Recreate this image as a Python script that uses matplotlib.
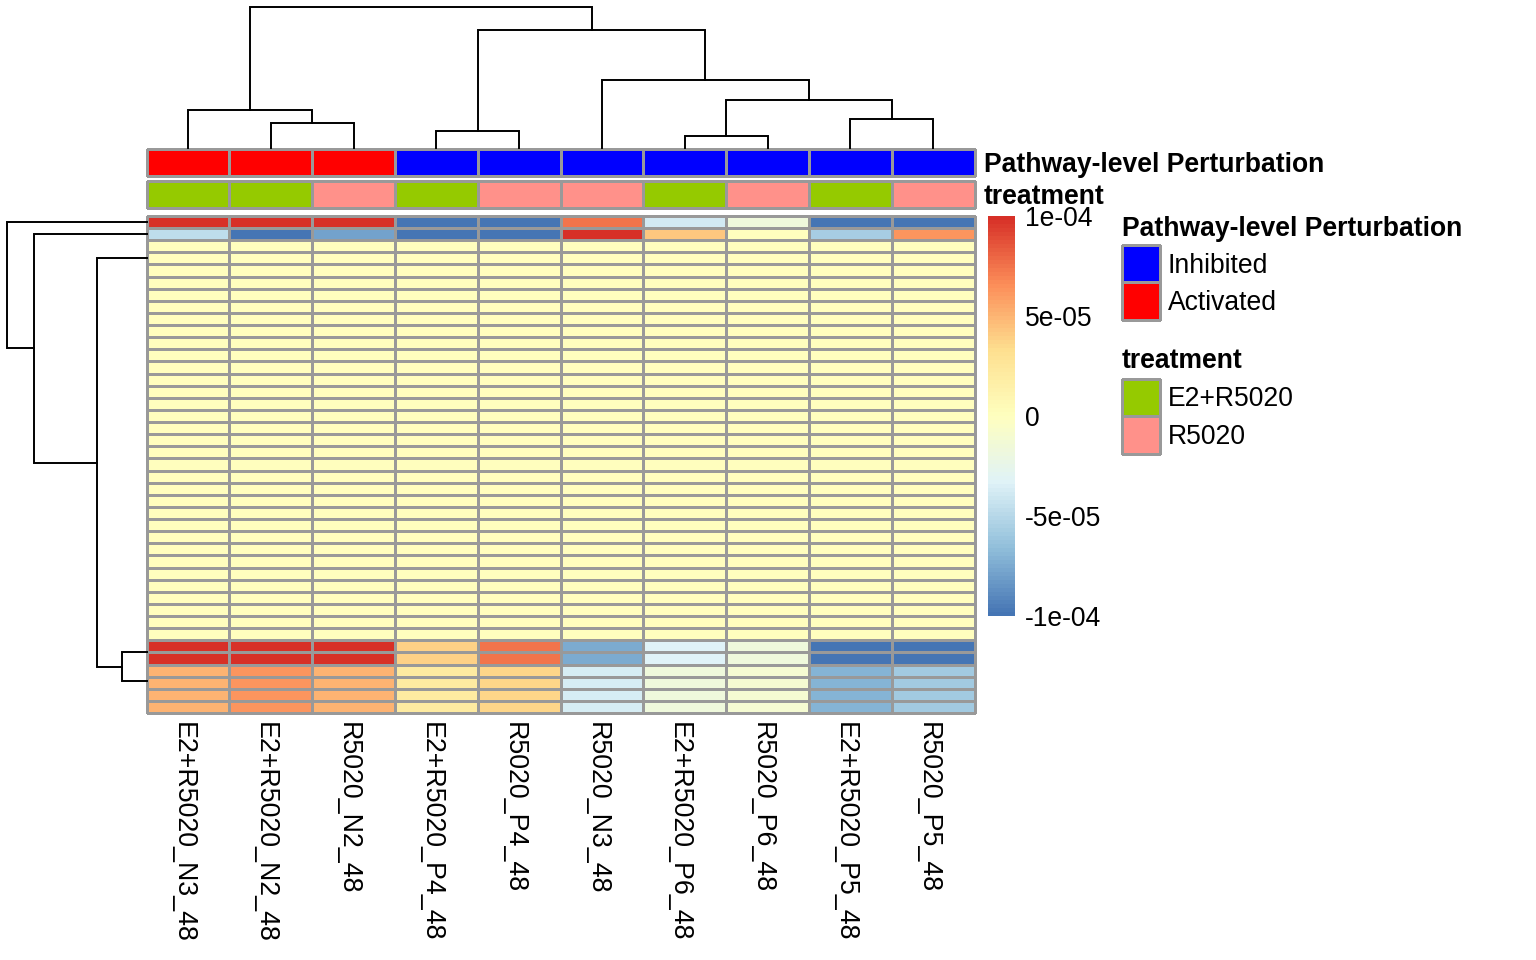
import matplotlib
matplotlib.use('Agg')
import matplotlib.pyplot as plt
from matplotlib.colors import LinearSegmentedColormap, ListedColormap, Normalize
import numpy as np

plt.rcParams['font.family'] = ['Liberation Sans', 'DejaVu Sans']

# sample names in clustered order
samples = ['E2+R5020_N3_48', 'E2+R5020_N2_48', 'R5020_N2_48', 'E2+R5020_P4_48', 'R5020_P4_48',
           'R5020_N3_48', 'E2+R5020_P6_48', 'R5020_P6_48', 'E2+R5020_P5_48', 'R5020_P5_48']

# annotation rows: 0/1 index into the legend colours
perturbation = [1, 1, 1, 0, 0, 0, 0, 0, 0, 0]
treatment = [0, 0, 1, 0, 1, 1, 0, 1, 0, 1]
perturbation_names = ['Inhibited', 'Activated']
perturbation_colors = ['#0000FF', '#FF0000']
treatment_names = ['E2+R5020', 'R5020']
treatment_colors = ['#95CA00', '#FF918A']

# heatmap values, in units of 1e-5
row_a = [100, 100, 100, -100, -100, 75, -39, -18, -100, -100]
row_b = [-48, -100, -80, -100, -100, 100, 42, 0, -57, 62]
row_flat = [0, 0, 0, 0, 0, 0, 0, 0, 0, 0]
row_c = [100, 100, 100, 38, 75, -75, -33, -18, -100, -100]
row_d = [51, 62, 51, 20, 37, -38, -18, -11, -71, -60]
n_flat = 33
n_d = 4

# dendrogram merges (left, right, height); ids above the leaf count are earlier merges
col_merges = [(1, 2, 25), (0, 10, 38), (3, 4, 17), (6, 7, 12), (8, 9, 29),
              (13, 14, 48), (5, 15, 68), (12, 16, 118), (11, 17, 141)]
# row leaves: the two top rows, flat block, the pair, the lower block (in row units)
row_leaf_pos = [0.5, 1.5, 3.5, 36.0, 38.4]
row_merges = [(3, 4, 25), (2, 5, 50), (1, 6, 113), (0, 7, 140)]

bar_ticks = [-10, -5, 0, 5, 10]
bar_labels = ['-1e-04', '-5e-05', '0', '5e-05', '1e-04']

W, H = 1536, 960
GRID = '#999999'


def px_axes(x0, y0, x1, y1):
    ax = fig.add_axes([x0 / W, 1 - y1 / H, (x1 - x0) / W, (y1 - y0) / H])
    ax.axis('off')
    return ax


def draw_tree(ax, leaf_pos, merges, horizontal):
    pos = list(leaf_pos)
    top = [0] * len(leaf_pos)
    for a, b, h in merges:
        xs = [pos[a], pos[a], pos[b], pos[b]]
        ys = [top[a], h, h, top[b]]
        if horizontal:
            ax.plot(xs, ys, color='k', lw=1.4, solid_joinstyle='miter', clip_on=False)
        else:
            ax.plot(ys, xs, color='k', lw=1.4, solid_joinstyle='miter', clip_on=False)
        pos.append((pos[a] + pos[b]) / 2)
        top.append(h)


def cells(ax, values, cmap, norm):
    ax.pcolormesh(np.array(values), cmap=cmap, norm=norm, edgecolors=GRID,
                  linewidth=0.9, clip_on=False)
    ax.invert_yaxis()


fig = plt.figure(figsize=(W / 100, H / 100), dpi=100)

palette = ['#4575B4', '#91BFDB', '#E0F3F8', '#FFFFBF', '#FEE090', '#FC8D59', '#D73027']
ramp = LinearSegmentedColormap.from_list('ramp', palette, N=100)
norm = Normalize(-100, 100)

# main heatmap
matrix = [row_a, row_b] + [row_flat] * n_flat + [row_c, row_c] + [row_d] * n_d
hm = px_axes(146.5, 216, 974.5, 713)
cells(hm, matrix, ramp, norm)

# column labels
lab = px_axes(147, 713, 975, 960)
lab.set_xlim(0, len(samples))
lab.set_ylim(247, 0)
for i, s in enumerate(samples):
    lab.text(i + 0.5 - 6 / 82.8, 9, s, rotation=270, ha='center', va='top', fontsize=19.3)

# annotation strips
a1 = px_axes(146.5, 149, 974.5, 176)
cells(a1, [perturbation], ListedColormap(perturbation_colors), Normalize(0, 1))
a2 = px_axes(146.5, 181, 974.5, 208)
cells(a2, [treatment], ListedColormap(treatment_colors), Normalize(0, 1))
fig.text(984 / W, 1 - 165 / H, 'Pathway-level Perturbation', fontsize=19.1, fontweight='bold', va='center')
fig.text(984 / W, 1 - 197 / H, 'treatment', fontsize=19.1, fontweight='bold', va='center')

# top tree
top_tree = px_axes(146.5, 7, 974.5, 148)
top_tree.set_xlim(0, len(samples))
top_tree.set_ylim(0, 141)
draw_tree(top_tree, [i + 0.5 for i in range(len(samples))], col_merges, True)

# left tree
left_tree = px_axes(7, 216, 147, 713)
left_tree.set_xlim(140, 0)
left_tree.set_ylim(len(matrix), 0)
draw_tree(left_tree, row_leaf_pos, row_merges, False)

# colour bar
bar = px_axes(988, 216, 1015, 616)
bar.imshow(np.linspace(100, -100, 100).reshape(-1, 1), cmap=ramp, norm=norm, aspect='auto',
           extent=[0, 1, -10, 10], interpolation='nearest')
for t, l in zip(bar_ticks, bar_labels):
    bar.text(1.37, t - 0.17, l, va='center', ha='left', fontsize=19.1, clip_on=False)

# legends
def legend(title, names, colors, title_y, key_y):
    fig.text(1122 / W, 1 - title_y / H, title, fontsize=19.1, fontweight='bold', va='center')
    key = px_axes(1122, key_y, 1160, key_y + 37.5 * len(names))
    cells(key, [[i] for i in range(len(names))], ListedColormap(colors), Normalize(0, len(names) - 1))
    for i, n in enumerate(names):
        fig.text(1168 / W, 1 - (key_y + 2 + 37.5 * (i + 0.5)) / H, n, fontsize=19.1, va='center')


legend('Pathway-level Perturbation', perturbation_names, perturbation_colors, 228.5, 245)
legend('treatment', treatment_names, treatment_colors, 361, 378.5)

fig.savefig('out.png', dpi=100)
